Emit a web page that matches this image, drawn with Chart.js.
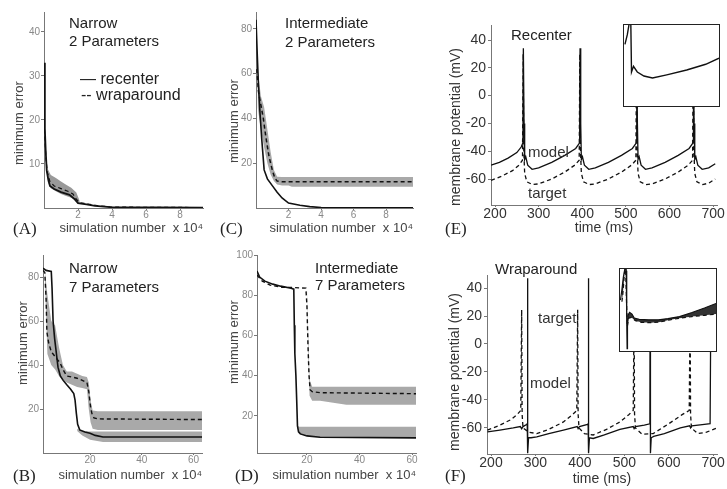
<!DOCTYPE html>
<html lang="en">
<head>
  <meta charset="utf-8" />
  <title>Minimum error and membrane potential traces</title>
  <style>
    body { margin: 0; background: #fff; width: 727px; height: 489px; position: relative; overflow: hidden; font-family: "Liberation Sans", Arial, sans-serif; }
    .panel { position: absolute; }
    .note { position: absolute; color: #222; font-size: 15px; line-height: 1; white-space: nowrap; transform: translateY(-50%); }
    .letter { position: absolute; color: #222; font-family: "Liberation Serif", "Times New Roman", serif; font-size: 17px; line-height: 1; transform: translateY(-50%); }
    .ytitle { position: absolute; color: #444; font-size: 13px; line-height: 1; white-space: nowrap; transform: translate(-50%, -50%) rotate(-90deg); }
    .inset { position: absolute; background: #fff; border: 1.5px solid #222; box-sizing: border-box; }
  </style>
</head>
<body>
  <!-- panels -->
  <div class="panel" style="left:0;top:0;width:210px;height:240px"><canvas id="chartA"></canvas></div>
  <div class="panel" style="left:214px;top:0;width:206px;height:240px"><canvas id="chartC"></canvas></div>
  <div class="panel" style="left:440px;top:0;width:287px;height:240px"><canvas id="chartE"></canvas></div>
  <div class="panel" style="left:0;top:245px;width:210px;height:244px"><canvas id="chartB"></canvas></div>
  <div class="panel" style="left:214px;top:245px;width:206px;height:244px"><canvas id="chartD"></canvas></div>
  <div class="panel" style="left:440px;top:245px;width:287px;height:244px"><canvas id="chartF"></canvas></div>
  <div class="inset" style="left:623px;top:24px;width:97px;height:83px"><canvas id="insetE"></canvas></div>
  <div class="inset" style="left:619px;top:268px;width:98px;height:84px"><canvas id="insetF"></canvas></div>

  <!-- axis titles -->
  <div class="ytitle" style="left:18px;top:123px">minimum error</div>
  <div class="ytitle" style="left:233px;top:121px">minimum error</div>
  <div class="ytitle" style="left:455px;top:127px;font-size:14px;color:#333">membrane potential (mV)</div>
  <div class="ytitle" style="left:22px;top:343px">minimum error</div>
  <div class="ytitle" style="left:233px;top:342px">minimum error</div>
  <div class="ytitle" style="left:454px;top:372px;font-size:14px;color:#333">membrane potential (mV)</div>

  <!-- annotations -->
  <div class="note" style="left:69px;top:22px">Narrow</div>
  <div class="note" style="left:69px;top:40px">2 Parameters</div>
  <div class="note" style="left:80px;top:79px;font-size:16px">— recenter</div>
  <div class="note" style="left:81px;top:95px;font-size:16px">-- wraparound</div>
  <div class="note" style="left:285px;top:22px">Intermediate</div>
  <div class="note" style="left:285px;top:41px">2 Parameters</div>
  <div class="note" style="left:511px;top:34px">Recenter</div>
  <div class="note" style="left:528px;top:151px;color:#333">model</div>
  <div class="note" style="left:528px;top:192px;color:#333">target</div>
  <div class="note" style="left:69px;top:267px">Narrow</div>
  <div class="note" style="left:69px;top:286px">7 Parameters</div>
  <div class="note" style="left:315px;top:267px">Intermediate</div>
  <div class="note" style="left:315px;top:284px">7 Parameters</div>
  <div class="note" style="left:495px;top:268px">Wraparound</div>
  <div class="note" style="left:538px;top:317px;color:#333">target</div>
  <div class="note" style="left:530px;top:382px;color:#333">model</div>

  <div class="letter" style="left:13px;top:228px">(A)</div>
  <div class="letter" style="left:220px;top:228px">(C)</div>
  <div class="letter" style="left:445px;top:228px">(E)</div>
  <div class="letter" style="left:13px;top:475px">(B)</div>
  <div class="letter" style="left:235px;top:475px">(D)</div>
  <div class="letter" style="left:445px;top:475px">(F)</div>

  <script src="https://cdn.jsdelivr.net/npm/chart.js@4.4.1/dist/chart.umd.min.js"></script>
  <script>
    // ---- data: [x, y] pairs, x in units of 10^4 simulations (A-D) or ms (E, F)

    // (A) narrow, 2 parameters
    const aRecenter = [[0,33],[0.05,18],[0.1,13],[0.16,8.5],[0.25,6.5],[0.35,5],[0.6,4.3],[1,3.6],[1.5,3],[1.8,2],[2,1.1],[2.5,0.8],[3,0.5],[3.9,0.2],[9.35,0.1]];
    const aWrap = [[0,21],[0.05,16],[0.12,11],[0.2,8],[0.35,6],[0.6,5],[1,4.4],[1.4,3.8],[1.7,3.2],[1.9,2],[2.1,1.2],[2.6,0.9],[3.2,0.5],[4,0.2],[9.35,0.1]];
    const aBandX = [0.2,0.4,0.7,1,1.3,1.6,1.9,2.1];
    const aBandHi = [9,7.5,6.8,6,5.3,4.6,3.5,1.6];
    const aBandLo = [6,4.5,3.8,3.2,2.7,2.3,1.5,1];

    // (C) intermediate, 2 parameters
    const cRecenter = [[0,84],[0.08,68],[0.15,55],[0.25,42],[0.35,31],[0.5,17],[0.7,13],[1,10],[1.3,7],[1.6,4.5],[2,2.2],[2.7,1.2],[3.3,0.6],[4,0.2],[9.65,0.1]];
    const cWrap = [[0.05,62],[0.15,52],[0.3,46],[0.45,40],[0.6,32],[0.8,23],[1,17],[1.15,13.5],[1.3,12],[1.6,11.7],[9.65,11.7]];
    const cBandX = [0.1,0.3,0.5,0.7,0.9,1.1,1.3,1.6,2,2.2,9.65];
    const cBandHi = [62,50,45,35,25,17,14,13.8,13.8,13.8,13.8];
    const cBandLo = [45,35,27,20,15,12,10.5,10,10,9.5,9.5];

    // (B) narrow, 7 parameters
    const bRecenter = [[1.8,84],[3,83],[5,82.5],[5.3,75],[5.7,60],[6.3,52],[7,45],[7.6,39],[8.5,35],[9.6,33],[11,31],[12.5,29],[13.7,27],[14.2,24],[14.7,18],[15.2,13],[16,10.5],[18,9.5],[20,9],[22,8],[25,7.3],[63.3,7.3]];
    const bWrap = [[1.8,83],[2.5,82],[3,70],[3.3,55],[4,50],[5,46],[5.7,45],[7,43],[8.4,41],[9.5,38],[11,35],[13,34.5],[15,34],[17,33],[18.8,32],[19.5,28],[20.2,21],[20.7,18],[21.5,16],[23,15.5],[63.3,15.2]];
    const bBandX = [2.5,3.5,5,6.5,8,9.5,11,13,15,17,18.8,19.5,20.2,21,23,30,63.3];
    const bBandHi = [83,72,60,58,48,40,37,37,36,35,34.5,32,24,19.3,19,19,19];
    const bBandLo = [80,45,40,38,35,33,32,31,30,29.5,29,20,14,11,10.5,10.5,10.5];
    const bBand2X = [15,17,20,25,63.3];
    const bBand2Hi = [11,10,9.8,9.8,9.8];
    const bBand2Lo = [10,8,6,5,5];

    // (D) intermediate, 7 parameters
    const dRecenter = [[1,92],[2,89],[4,87],[7,85.5],[10,84.5],[14,83.5],[15,83],[15.2,65],[15.4,51],[15.8,40],[16.1,28],[16.4,15],[16.8,12],[17.5,11],[20,10],[25,9.3],[61.5,9]];
    const dWrap = [[1,90],[3,87],[6,85],[10,84],[15,83.8],[19.6,83.5],[20,75],[20.4,55],[20.8,40],[21.2,33],[22,32],[25,31.5],[61.5,31]];
    const dBandX = [20,20.5,21,22,25,30,35,61.5];
    const dBandHi = [84,60,38,34.5,34.5,34.5,34.5,34.5];
    const dBandLo = [83,50,30,27.5,27.5,26.5,25.5,25.5];
    const dBand2X = [16.4,17,20,25,61.5];
    const dBand2Hi = [15,14.5,14.5,14.5,14.5];
    const dBand2Lo = [14,11,10,9.3,9];

    // (E) recenter traces, time (ms) vs membrane potential (mV)
    const eModel = [[191,-50],[210,-48],[230,-45],[250,-41],[260,-37],[264,-34],[265,34],[266.5,-20],[268,-46],[270.5,-44],[275,-50],[285,-53],[300,-52],[330,-48],[360,-43],[385,-38],[394,-34],[395,34],[396.5,-20],[398,-46],[400.5,-44],[405,-50],[415,-53],[430,-52],[460,-48],[490,-43],[515,-38],[524,-34],[525,34],[526.5,-20],[528,-46],[530.5,-44],[535,-50],[545,-53],[560,-52],[590,-48],[620,-43],[645,-38],[654,-34],[655,34],[656.5,-20],[658,-46],[660.5,-44],[665,-50],[675,-53],[690,-52],[705,-49]];
    const eTarget = [[191,-61],[215,-58],[240,-54],[255,-50],[263,-46.5],[264.5,30],[266,-40],[268,-56],[273,-62],[286,-64],[300,-63.5],[330,-60],[360,-55],[383,-50],[393,-46.5],[394.5,30],[396,-40],[398,-56],[403,-62],[416,-64],[430,-63.5],[460,-60],[490,-55],[513,-50],[523,-46.5],[524.5,30],[526,-40],[528,-56],[533,-62],[546,-64],[560,-63.5],[590,-60],[620,-55],[643,-50],[653,-46.5],[654.5,30],[656,-40],[658,-56],[663,-62],[676,-64],[690,-63],[705,-60]];
    const eInset = [[1,76],[3.5,88],[5.2,100],[6.5,130],[7.2,100],[7.9,42],[10,49],[14,42],[21,37],[30,34.5],[45,38.5],[66,44.5],[86,51.5],[100,59]];

    // (F) wraparound traces
    const fModel = [[192,-62.8],[220,-61.5],[250,-60],[266,-59],[269,-60.5],[272,-59],[280,-57.5],[281.5,-57],[282,47],[282.5,-20],[283,-78],[284.5,-67],[290,-67],[303,-66.4],[330,-64],[363,-61.5],[394,-59],[396,-60.5],[399,-59],[417,-57.5],[418.5,-57],[419,47],[419.5,-20],[420,-78],[421.5,-67],[430,-67.5],[455,-65],[490,-61],[520,-59],[522,-60.5],[525,-59],[545,-58],[557.5,-57],[558,47],[558.5,-20],[559,-78],[560.5,-67],[566,-66],[590,-64],[626,-60],[647,-58.5],[649,-60],[652,-58.5],[680,-57.5],[693,-57],[695,47]];
    const fTarget = [[192,-61.6],[220,-58],[245,-54],[260,-50],[267,-47.5],[269,24.4],[270,-50],[272,-60],[285,-63],[303,-64],[330,-61],[363,-55.7],[383,-50.5],[393,-47.5],[395,24.4],[396,-50],[398,-60],[410,-64],[430,-65],[460,-61],[490,-55.7],[510,-50.5],[520,-47.5],[522,24.4],[523,-50],[525,-60],[540,-64.5],[565,-64],[600,-57],[630,-50.5],[646,-47.5],[648,24.4],[649,-50],[651,-60],[665,-64],[685,-63],[708,-60]];
    const fInsetModel = [[0.5,62],[2,75],[3.5,90],[5,100],[5.8,110],[6.5,98],[7,40],[7.4,3],[7.8,30],[8.5,44],[10,47],[12.5,45],[15,40],[20,38.5],[30,38],[40,38],[50,39.5],[62,42],[75,47],[88,52.5],[100,58]];
    const fInsetTarget = [[2,60],[3,70],[4,85],[5,100],[6,95],[6.8,60],[7.6,30],[9,40],[12,41],[16,37],[22,35],[32,34.5],[42,35.5],[52,38],[62,40],[75,42],[88,43.5],[100,45]];

    // tick labels
    const smallXTicks = [2,4,6,8];
    const wideXTicks = [20,40,60];
    const timeTicks = [200,300,400,500,600,700];
    const aYTicks = [10,20,30,40];
    const errYTicks = [20,40,60,80];
    const dYTicks = [20,40,60,80,100];
    const mvTicks = [-60,-40,-20,0,20,40];

    const simTitle = 'simulation number  x 10\u2074';

    Chart.defaults.font.family = '"Liberation Sans", Arial, sans-serif';

    function pts(arr) { return arr.map(p => ({x: p[0], y: p[1]})); }

    function trace(arr, dashed, width) {
      return { data: pts(arr), borderColor: '#111', borderWidth: width || 1.5, borderDash: dashed ? [4, 3] : [],
               fill: false, pointRadius: 0, tension: 0 };
    }

    // two datasets, the first filled down to the second
    function band(xs, hi, lo, color) {
      return [
        { data: xs.map((x, i) => ({x: x, y: hi[i]})), borderWidth: 0, borderColor: 'rgba(0,0,0,0)', backgroundColor: color, fill: '+1', pointRadius: 0, tension: 0 },
        { data: xs.map((x, i) => ({x: x, y: lo[i]})), borderWidth: 0, borderColor: 'rgba(0,0,0,0)', fill: false, pointRadius: 0, tension: 0 }
      ];
    }

    function panel(id, datasets, ax) {
      const dark = ax.dark;
      new Chart(document.getElementById(id), {
        type: 'line',
        data: { datasets: datasets },
        options: {
          responsive: true, maintainAspectRatio: false, animation: false,
          layout: { padding: { left: 0, right: ax.padRight, top: ax.padTop, bottom: 0 } },
          plugins: { legend: { display: false }, tooltip: { enabled: false }, filler: { drawTime: 'beforeDatasetsDraw' } },
          scales: {
            x: {
              type: 'linear', min: ax.xMin, max: ax.xMax,
              afterBuildTicks: s => { s.ticks = ax.xTicks.map(v => ({value: v})); },
              afterFit: s => { s.height = ax.xSize; s.paddingLeft = 0; s.paddingRight = 0; },
              grid: { drawOnChartArea: false, color: '#777', tickLength: 2 },
              border: { color: '#777', width: 1 },
              ticks: { color: dark ? '#333' : '#888', font: { size: dark ? 14 : 10 }, padding: -1, maxRotation: 0, autoSkip: false },
              title: { display: true, text: ax.xTitle, align: dark ? 'center' : 'end', color: dark ? '#333' : '#444',
                       font: { size: dark ? 14 : 13 }, padding: { top: 0, bottom: ax.xTitlePad } }
            },
            y: {
              type: 'linear', min: ax.yMin, max: ax.yMax,
              afterBuildTicks: s => { s.ticks = ax.yTicks.map(v => ({value: v})); },
              afterFit: s => { s.width = ax.ySize; s.paddingTop = 0; s.paddingBottom = 0; },
              grid: { drawOnChartArea: false, color: '#777', tickLength: 3 },
              border: { color: '#777', width: 1 },
              ticks: { color: dark ? '#333' : '#888', font: { size: dark ? 14 : 10 }, padding: dark ? 2 : 1, autoSkip: false }
            }
          }
        }
      });
    }

    function inset(id, datasets) {
      new Chart(document.getElementById(id), {
        type: 'line',
        data: { datasets: datasets },
        options: {
          responsive: true, maintainAspectRatio: false, animation: false,
          layout: { padding: 0 },
          plugins: { legend: { display: false }, tooltip: { enabled: false }, filler: { drawTime: 'beforeDatasetsDraw' } },
          scales: {
            x: { type: 'linear', min: 0, max: 100, display: false },
            y: { type: 'linear', min: 0, max: 100, display: false }
          }
        }
      });
    }

    const gray = '#a9a9a9';

    panel('chartA', [trace(aRecenter, false, 1.8), trace(aWrap, true, 1.2)].concat(band(aBandX, aBandHi, aBandLo, '#999')), {
      xMin: 0, xMax: 9.35, yMin: 0, yMax: 44.5, xTicks: smallXTicks, yTicks: aYTicks,
      ySize: 44, xSize: 32, padTop: 12, padRight: 7, xTitle: simTitle, xTitlePad: 4
    });

    panel('chartC', [trace(cRecenter, false, 1.6), trace(cWrap, true, 1.5)].concat(band(cBandX, cBandHi, cBandLo, gray)), {
      xMin: 0, xMax: 9.65, yMin: 0, yMax: 87.5, xTicks: smallXTicks, yTicks: errYTicks,
      ySize: 42, xSize: 32, padTop: 12, padRight: 7, xTitle: simTitle, xTitlePad: 4
    });

    panel('chartB', [trace(bRecenter, false, 1.6), trace(bWrap, true, 1.4)]
        .concat(band(bBandX, bBandHi, bBandLo, gray), band(bBand2X, bBand2Hi, bBand2Lo, gray)), {
      xMin: 1.8, xMax: 63.3, yMin: 0, yMax: 90, xTicks: wideXTicks, yTicks: errYTicks,
      ySize: 43, xSize: 36, padTop: 10, padRight: 8, xTitle: simTitle, xTitlePad: 6
    });

    panel('chartD', [trace(dRecenter, false, 1.6), trace(dWrap, true, 1.4)]
        .concat(band(dBandX, dBandHi, dBandLo, gray), band(dBand2X, dBand2Hi, dBand2Lo, gray)), {
      xMin: 1, xMax: 61.5, yMin: 1.5, yMax: 100, xTicks: wideXTicks, yTicks: dYTicks,
      ySize: 43, xSize: 36, padTop: 10, padRight: 4, xTitle: simTitle, xTitlePad: 6
    });

    panel('chartE', [trace(eModel, false, 1.3), trace(eTarget, true, 1.3)], {
      dark: true, xMin: 190.8, xMax: 709, yMin: -78.7, yMax: 50.8, xTicks: timeTicks, yTicks: mvTicks,
      ySize: 51, xSize: 35, padTop: 25, padRight: 10, xTitle: 'time (ms)', xTitlePad: 3
    });

    panel('chartF', [trace(fModel, false, 1.3), trace(fTarget, true, 1.3)], {
      dark: true, xMin: 191, xMax: 708.5, yMin: -78.6, yMax: 49.3, xTicks: timeTicks, yTicks: mvTicks,
      ySize: 47, xSize: 35, padTop: 30, padRight: 10, xTitle: 'time (ms)', xTitlePad: 1
    });

    inset('insetE', [trace(eInset, false, 1.4)]);

    const fInsetUpper = trace(fInsetModel, false, 1.2);
    fInsetUpper.fill = '+1';
    fInsetUpper.backgroundColor = '#333';
    inset('insetF', [fInsetUpper, trace(fInsetTarget, true, 1.2)]);
  </script>
</body>
</html>
